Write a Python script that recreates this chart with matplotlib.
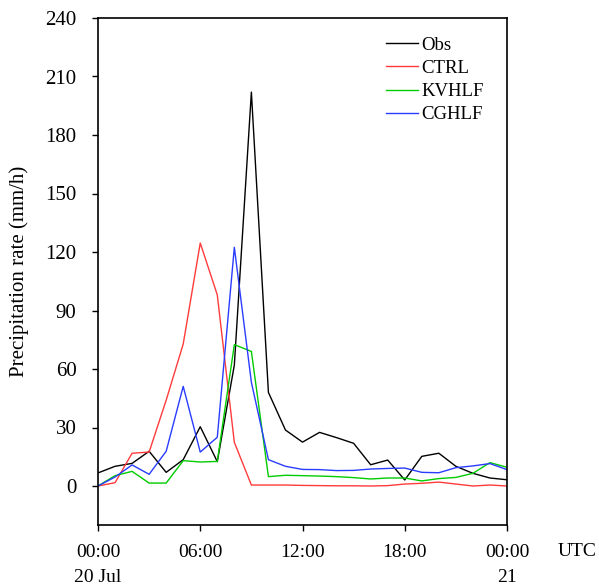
import numpy as np
import matplotlib.pyplot as plt

plt.rcParams['font.family'] = 'Liberation Serif'

hours = np.arange(25)
obs = [6.7, 10.1, 11.6, 17.8, 7.0, 13.5, 30.4, 12.5, 62.0, 202.0, 48.0, 28.7, 22.5,
       27.5, 24.8, 21.9, 10.9, 13.3, 3.1, 15.2, 16.8, 10.1, 6.5, 4.1, 3.2]
ctrl = [0.0, 1.7, 16.8, 17.4, 44.0, 72.8, 124.6, 98.0, 22.4, 0.5, 0.5, 0.5, 0.3,
        0.2, 0.1, 0.1, 0.0, 0.2, 1.0, 1.4, 2.0, 1.0, 0.0, 0.5, 0.0]
kvhlf = [0.0, 5.3, 7.5, 1.5, 1.5, 13.0, 12.3, 12.6, 72.5, 69.0, 4.8, 5.5, 5.3,
         5.1, 4.8, 4.3, 3.6, 4.1, 4.1, 2.6, 3.8, 4.4, 6.5, 12.0, 9.6]
cghlf = [0.0, 4.6, 10.8, 6.0, 17.8, 51.1, 17.4, 25.0, 122.4, 53.2, 13.5, 10.1, 8.5,
         8.4, 7.9, 8.0, 8.7, 9.0, 9.2, 7.0, 6.8, 9.4, 10.3, 11.5, 8.4]

xticks = [0, 6, 12, 18, 24]
xticklabels = ['00:00\n20 Jul', '06:00', '12:00', '18:00', '00:00\n21']
yticks = np.arange(0, 241, 30)

fig = plt.figure(figsize=(5.99, 5.85), dpi=100)
ax = fig.add_axes([98/599, 1-525/585, (507-98)/599, (525-18)/585])

ax.plot(hours, obs, color='black', lw=1.0, label='Obs')
ax.plot(hours, ctrl, color='#ff3b3b', lw=1.0, label='CTRL')
ax.plot(hours, kvhlf, color='#00cc00', lw=1.0, label='KVHLF')
ax.plot(hours, cghlf, color='#2a3cff', lw=1.0, label='CGHLF')

ax.set_xlim(0, 24)
ax.set_ylim(-20, 240)
ax.set_xticks(xticks)
ax.set_xticklabels(xticklabels, fontsize=14, linespacing=1.6)
ax.set_yticks(yticks)
ax.tick_params(axis='y', labelsize=15, direction='out', length=4, width=1, pad=11.5)
ax.tick_params(axis='x', direction='out', length=4, width=1, pad=10)
for s in ax.spines.values():
    s.set_linewidth(1.2)

ax.set_ylabel('Precipitation rate (mm/h)', fontsize=15)
ax.yaxis.set_label_coords(-0.169, 0.5)
ax.text(1.171, -0.053, 'UTC', transform=ax.transAxes, fontsize=14, ha='center', va='center')

ax.legend(loc='upper right', bbox_to_anchor=(0.985, 0.997), frameon=False, fontsize=13.5,
          handlelength=1.7, handletextpad=0.2, labelspacing=0.33)

fig.savefig('out.png', dpi=100)
